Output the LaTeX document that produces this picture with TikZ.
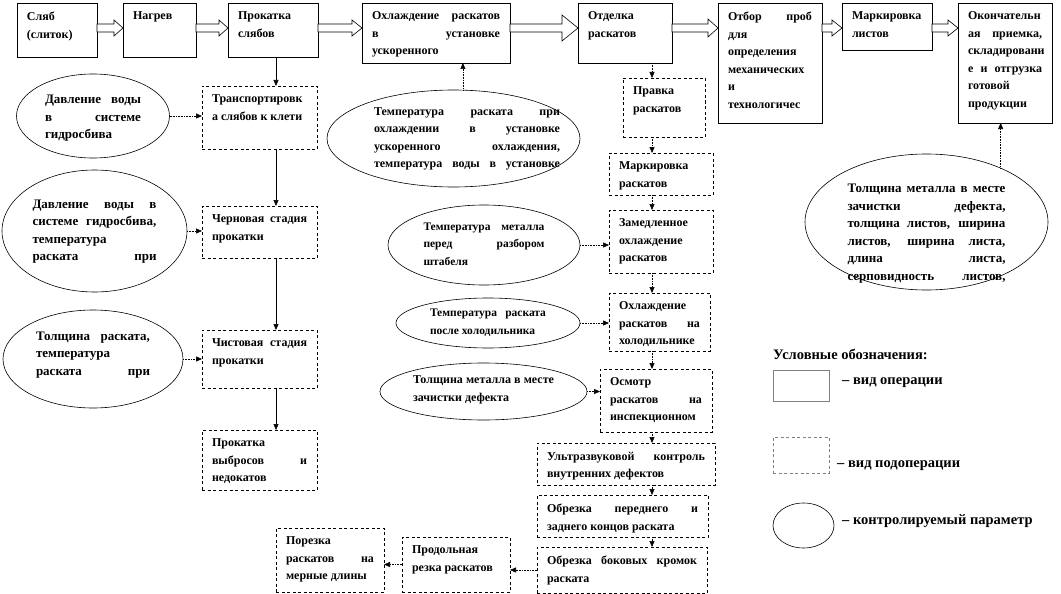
\documentclass[tikz,border=0pt]{standalone}
\usepackage{fontspec}
\setmainfont{Liberation Serif}
\usetikzlibrary{shapes.geometric,arrows.meta,calc}
\hyphenpenalty=10000
\exhyphenpenalty=10000

\newcommand{\bfs}[1]{\fontsize{#1}{17.5}\selectfont\bfseries}
% text of a box: width, height (in px), lines
\newcommand{\boxtxt}[3]{\parbox[t][\dimexpr#2pt-18pt\relax][t]{\dimexpr#1pt-20pt\relax}{\bfs{12}#3}}
% text of an ellipse: [raise], width, size, lines
\newcommand{\elltxt}[4][0pt]{\makebox[0pt]{\raisebox{#1}[0pt][0pt]{\parbox{#2pt}{\bfs{#3}#4}}}}
\newcommand{\fulllast}{\parfillskip=0pt\relax}
% hollow block arrow between two top boxes
\newcommand{\blockarr}[4]{%
	\path (#1.east |- 0,28) coordinate (ba1) (#2.west |- 0,28) coordinate (ba2);
	\draw[blockarrow] ($(ba1)+(0,4)$) -- ($(ba2)+(-#4,4)$) -- ($(ba2)+(-#4,#3)$) -- (ba2)
		-- ($(ba2)+(-#4,-#3)$) -- ($(ba2)+(-#4,-4)$) -- ($(ba1)+(0,-4)$) -- cycle;}

\begin{document}
\begin{tikzpicture}[x=1pt,y=-1pt,
	op/.style={draw, line width=0.8pt, anchor=north west, inner xsep=10pt, inner ysep=9pt, outer sep=0pt},
	subop/.style={op, dash pattern=on 3pt off 2.5pt},
	param/.style={draw, ellipse, line width=0.6pt, inner sep=0pt, outer sep=0pt},
	blockarrow/.style={draw, fill=white, line width=0.6pt},
	link/.style={-{Triangle[length=6pt,width=5pt]}, line width=0.6pt},
	dlink/.style={link, densely dotted},
	legtxt/.style={anchor=base west, inner sep=0pt, font=\bfs{14.5}}]
	\useasboundingbox (0,0) rectangle (1061,594);
	% operations
	\foreach \nm/\x/\y/\w/\h/\txt in {
		slit/17/3/80/54/{Сляб\linebreak (слиток)},
		nagrev/123/3/73/54/{Нагрев},
		prokat/228/3/90/54/{Прокатка\linebreak слябов},
		ohl/362/3/148/60/{Охлаждение раскатов\linebreak в установке\linebreak ускоренного},
		otdel/578/3/94/60/{Отделка\linebreak раскатов},
		otbor/718/3/104/120/{Отбор проб\linebreak для\linebreak определения\linebreak механических\linebreak и\linebreak технологичес},
		markl/842/3/90/47/{Маркировка\linebreak листов},
		okon/958/3/94/120/{Окончательн\linebreak ая приемка,\linebreak складировани\linebreak е и отгрузка\linebreak готовой\linebreak продукции}
	}
	\node[op] (\nm) at (\x,\y) {\boxtxt{\w}{\h}{\txt}};
	% sub-operations
	\foreach \nm/\x/\y/\w/\h/\txt in {
		transp/202/86/115/63/{Транспортировк\linebreak а слябов к клети},
		chern/202/206/115/52/{Черновая стадия\linebreak прокатки},
		chist/202/330/115/58/{Чистовая стадия\linebreak прокатки},
		vybr/202/430/115/60/{Прокатка\linebreak выбросов и\linebreak недокатов},
		pravka/623/78/82/59/{Правка\linebreak раскатов},
		markr/609/153/104/42/{Маркировка\linebreak раскатов},
		zamed/609/210/104/63/{Замедленное\linebreak охлаждение\linebreak раскатов},
		ohlh/609/293/101/58/{Охлаждение\linebreak раскатов на\linebreak холодильнике},
		osm/600/369/112/63/{Осмотр\linebreak раскатов на\linebreak инспекционном},
		uzk/537/443/178/42/{Ультразвуковой контроль\linebreak внутренних дефектов},
		obrp/537/495/171/42/{Обрезка переднего и\linebreak заднего концов раската},
		obrb/537/547/170/46/{Обрезка боковых кромок\linebreak раската},
		prod/402/537/108/55/{Продольная\linebreak резка раскатов},
		porez/276/528/108/64/{Порезка\linebreak раскатов на\linebreak мерные длины}
	}
	\node[subop] (\nm) at (\x,\y) {\boxtxt{\w}{\h}{\txt}};
	% controlled parameters
	\node[param, minimum width=153pt, minimum height=84pt] (e1) at (93,116)
		{\elltxt[-5pt]{96}{13}{Давление воды\linebreak в системе\linebreak гидросбива}};
	\node[param, minimum width=185pt, minimum height=122pt] (e2) at (94.5,231)
		{\elltxt[-3pt]{124}{13}{\fulllast Давление воды в\linebreak системе гидросбива,\linebreak температура\linebreak раската при}};
	\node[param, minimum width=180pt, minimum height=98pt] (e3) at (93,359)
		{\elltxt[1.5pt]{114}{13}{\fulllast Толщина раската,\linebreak температура\linebreak раската при}};
	\node[param, minimum width=253pt, minimum height=97pt] (e4) at (453.5,138.5)
		{\hspace*{27pt}\elltxt[-3pt]{186}{12}{\fulllast Температура раската при\linebreak охлаждении в установке\linebreak ускоренного охлаждения,\linebreak температура воды в установке}};
	\node[param, minimum width=192pt, minimum height=80pt] (e5) at (484,245)
		{\elltxt[-1.5pt]{121}{11.5}{Температура металла\linebreak перед разбором\linebreak штабеля}};
	\node[param, minimum width=184pt, minimum height=50pt] (e6) at (488,323)
		{\elltxt[-2pt]{116}{11.5}{Температура раската\linebreak после холодильника}};
	\node[param, minimum width=207pt, minimum height=57pt] (e7) at (483.5,391.5)
		{\elltxt[-1pt]{141}{12}{Толщина металла в месте\linebreak зачистки дефекта}};
	\node[param, minimum width=243pt, minimum height=136pt] (e8) at (926.5,222)
		{\elltxt[-14pt]{158}{13}{\fulllast Толщина металла в месте\linebreak зачистки дефекта,\linebreak толщина листов, ширина\linebreak листов, ширина листа,\linebreak длина листа,\linebreak серповидность листов,}};
	% connectors
	\foreach \a/\b/\hh/\hl in {slit/nagrev/8/9, nagrev/prokat/8/9, prokat/ohl/8/10, ohl/otdel/13/16,
		otdel/otbor/9/10, otbor/markl/8/10, markl/okon/8/10}
	{\blockarr{\a}{\b}{\hh}{\hl}}
	\coordinate (lcol) at (276,0);
	\coordinate (mcol) at (652,0);
	\foreach \a/\b in {prokat/transp, transp/chern, chern/chist, chist/vybr}
	\draw[link] (\a.south -| lcol) -- (\b.north -| lcol);
	\foreach \a/\b in {otdel/pravka, pravka/markr, markr/zamed, zamed/ohlh, ohlh/osm, osm/uzk, uzk/obrp, obrp/obrb}
	\draw[dlink] (\a.south -| mcol) -- (\b.north -| mcol);
	\foreach \e/\b in {e1/transp, e2/chern, e3/chist, e5/zamed, e6/ohlh, e7/osm}
	\draw[dlink] (\e.east) -- (\e.east -| \b.west);
	\draw[dlink] (e4.79) -- (e4.79 |- ohl.south);
	\draw[dlink] (e8.36) -- (e8.36 |- okon.south);
	\draw[dlink] (obrb.west) -- (obrb.west -| prod.east);
	\draw[dlink] (prod.west) -- (prod.west -| porez.east);
	% legend
	\node[legtxt] (legtitle) at (773,359) {Условные обозначения:};
	\node[draw=black!50, line width=0.8pt, anchor=north west, minimum width=56pt, minimum height=31pt, outer sep=0pt] (legop) at (773,370) {};
	\node[legtxt] (legoptxt) at (842,384) {– вид операции};
	\node[draw=black!50, line width=0.8pt, dash pattern=on 3pt off 2.5pt, anchor=north west, minimum width=56pt, minimum height=36pt, outer sep=0pt] (legsub) at (773,437) {};
	\node[legtxt] (legsubtxt) at (837,467) {– вид подоперации};
	\node[param, minimum width=61pt, minimum height=45pt] (legpar) at (803.5,525.5) {};
	\node[legtxt] (legpartxt) at (842,524) {– контролируемый параметр};
\end{tikzpicture}
\end{document}
